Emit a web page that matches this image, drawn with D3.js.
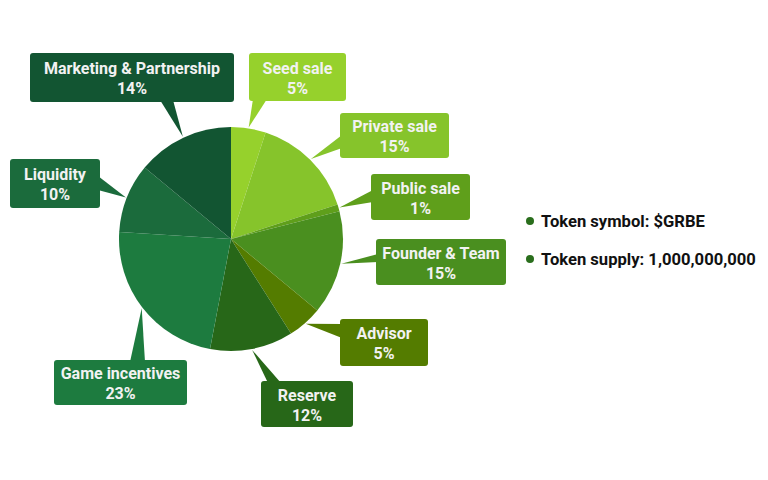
<!DOCTYPE html>
<html><head><meta charset="utf-8">
<script src="https://cdn.jsdelivr.net/npm/d3@7"></script>
<style>body{margin:0;background:#fff}svg{display:block}text{font-family:Roboto,"Noto Sans",sans-serif}</style>
</head><body>
<svg id="c" width="768" height="480"></svg>
<script>
const categories = ["Seed sale","Private sale","Public sale","Founder & Team","Advisor","Reserve","Game incentives","Liquidity","Marketing & Partnership"];
const values = [5,15,1,15,5,12,23,10,14];
const colors = ["#96d12c","#86c42b","#5f9f1b","#4a8f1f","#547c00","#276718","#1d7b3f","#1b6b3c","#125532"];
const legendItems = ["Token symbol: $GRBE","Token supply: 1,000,000,000"];
// label box layout: [x, y, w, h], pointer base side
const boxes = [
  [249,53,97,48,"bottom",[253,267]],
  [340,113,109,45,"left",[135,148]],
  [371,174,99,46,"left",[190,202]],
  [376,239,130,46,"left",[254,262]],
  [340,319,88,47,"left",[324,338]],
  [261,381,92,46,"top",[268,281]],
  [54,360,133,45,"top",[130,145]],
  [10,159,90,49,"right",[176,190]],
  [30,53,204,49,"bottom",[160,173]]
];
const svg = d3.select("#c");
const cx = 231, cy = 239, R = 112;
const pie = d3.pie().sort(null).value(d=>d)(values);
const arc = d3.arc().innerRadius(0).outerRadius(R);
const g = svg.append("g").attr("transform",`translate(${cx},${cy})`);
g.selectAll("path").data(pie).join("path").attr("d",arc).attr("fill",(d,i)=>colors[i]);

const lab = svg.append("g");
pie.forEach((d,i)=>{
  const [x,y,w,h,side,[a,b]] = boxes[i];
  const mid = (d.startAngle+d.endAngle)/2;
  const tx = cx + (R+1)*Math.sin(mid), ty = cy - (R+1)*Math.cos(mid);
  let p1,p2;
  if(side==="bottom"){p1=[a,y+h-2];p2=[b,y+h-2];}
  else if(side==="top"){p1=[a,y+2];p2=[b,y+2];}
  else if(side==="left"){p1=[x+2,a];p2=[x+2,b];}
  else {p1=[x+w-2,a];p2=[x+w-2,b];}
  lab.append("path").attr("d",`M${p1[0]},${p1[1]}L${tx},${ty}L${p2[0]},${p2[1]}Z`).attr("fill",colors[i]);
  lab.append("rect").attr("x",x).attr("y",y).attr("width",w).attr("height",h).attr("rx",3).attr("fill",colors[i]);
  const t = lab.append("text").attr("x",x+w/2).attr("text-anchor","middle").attr("fill","#f2f2f2")
    .attr("font-size",16).attr("font-weight","bold");
  t.append("tspan").attr("x",x+w/2).attr("y",y+h/2-3.5).text(categories[i]);
  t.append("tspan").attr("x",x+w/2).attr("y",y+h/2+16.5).text(values[i]+"%");
});

const leg = svg.append("g");
legendItems.forEach((s,i)=>{
  const y = 221 + i*38;
  leg.append("circle").attr("cx",530).attr("cy",y).attr("r",4).attr("fill","#2a6e1c");
  leg.append("text").attr("x",541).attr("y",y+5.5).attr("font-size",16.6).attr("font-weight","bold").attr("fill","#111").text(s);
});
</script>
</body></html>
